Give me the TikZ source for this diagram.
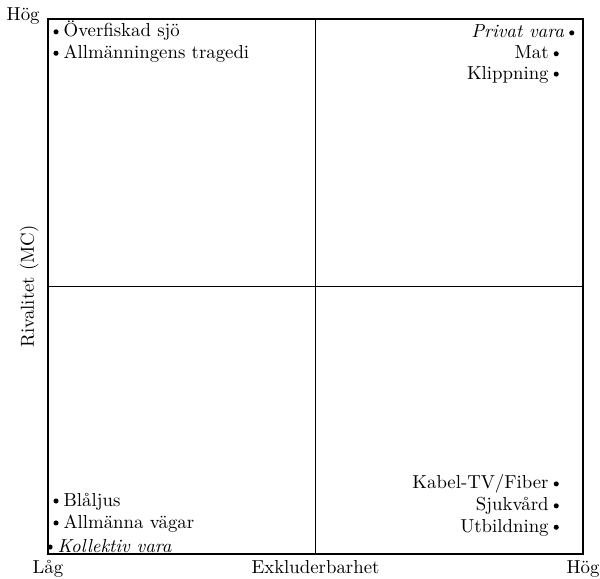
\documentclass[tikz,border=0pt]{standalone}
\usepackage{amsmath}
\usepackage{amsfonts}
\usepackage{amssymb}
\usepackage{tikz}

\begin{document}
\begin{tikzpicture}[scale=1]
\tikzstyle{every node}+=[inner sep=0pt]
\tikzstyle{dot}=[circle, fill=black, minimum size=2.7pt]
\tikzstyle{lbl}=[text height=1.5ex, text depth=.25ex, label distance=2.3pt]
\useasboundingbox (-0.897,-0.449) rectangle (10.318,10.355);
\draw [black, semithick] (0,0) rectangle (10,10);
\draw [black, semithick] (5,0) -- (5,10);
\draw [black, semithick] (0,5) -- (10,5);
\draw (-0.15,10.05) node [anchor=east] (ytop) {Hög};
\draw (0,-0.11) node [anchor=north] (xlow) {Låg};
\draw (5,-0.11) node [anchor=north] (xname) {Exkluderbarhet};
\draw (10,-0.11) node [anchor=north] (xtop) {Hög};
\draw (-0.17,5) node [rotate=90, anchor=south] (yname) {Rivalitet (MC)};
\node [dot, label={[lbl]right:Överfiskad sjö}] (fisk) at (0.15,9.76) {};
\node [dot, label={[lbl]right:Allmänningens tragedi}] (tragedi) at (0.15,9.36) {};
\node [dot, label={[lbl]left:\textit{Privat vara}}] (privat) at (9.79,9.74) {};
\node [dot, label={[lbl]left:Mat}] (mat) at (9.50,9.35) {};
\node [dot, label={[lbl]left:Klippning}] (klipp) at (9.50,8.97) {};
\node [dot, label={[lbl]right:Blåljus}] (blaljus) at (0.15,0.99) {};
\node [dot, label={[lbl]right:Allmänna vägar}] (vagar) at (0.15,0.58) {};
\node [dot, label={[lbl]right:\textit{Kollektiv vara}}] (kollektiv) at (0.04,0.13) {};
\node [dot, label={[lbl]left:Kabel-TV/Fiber}] (kabel) at (9.50,1.31) {};
\node [dot, label={[lbl]left:Sjukvård}] (sjukvard) at (9.50,0.90) {};
\node [dot, label={[lbl]left:Utbildning}] (utb) at (9.50,0.50) {};
\end{tikzpicture}
\end{document}
